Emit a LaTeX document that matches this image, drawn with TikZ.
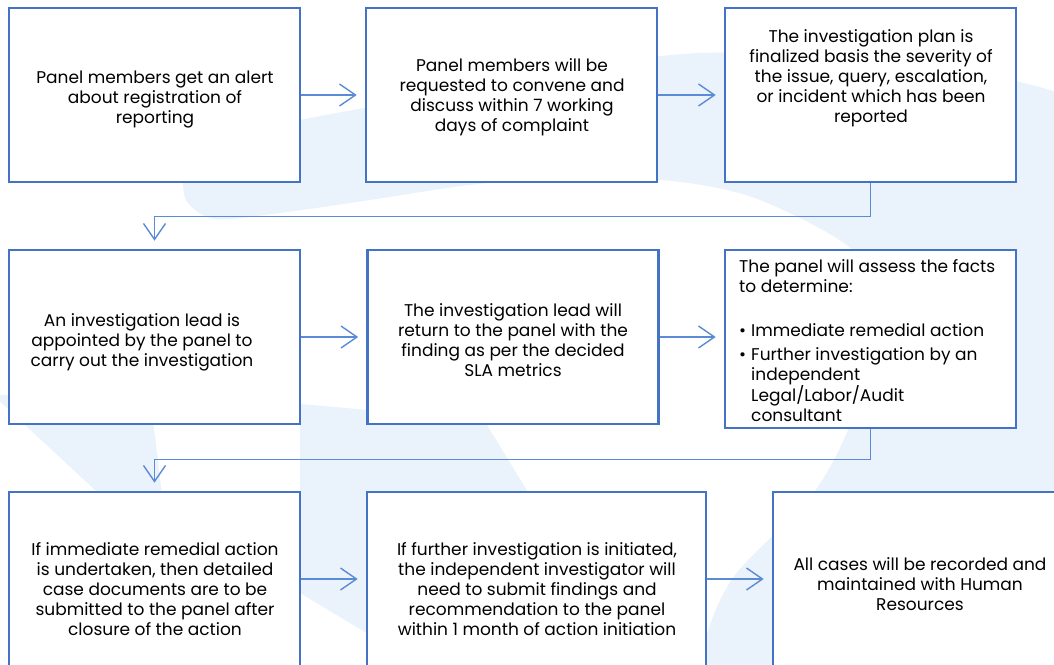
\documentclass[tikz,border=0pt]{standalone}
\usepackage{fontspec}
\setmainfont{Poppins}
\usetikzlibrary{arrows.meta}
\definecolor{boxblue}{HTML}{4472C4}
\definecolor{linkblue}{HTML}{5B8AD6}
\definecolor{wmblue}{HTML}{EAF3FC}
\tikzset{
  stepbox/.style={draw=boxblue, line width=2.6pt, fill=white, minimum width=291pt, minimum height=174pt, inner sep=0pt},
  steptext/.style={align=center, font=\fontsize{17}{20}\selectfont, inner sep=0pt},
  flowarrow/.style={draw=linkblue, line width=1.4pt, -{Straight Barb[length=16pt,width=22pt]}, shorten >=8pt},
}
\begin{document}
\begin{tikzpicture}[x=1pt,y=-1pt]
  \clip (0,0) rectangle (1054,664);

  % watermark behind the boxes
  \fill[wmblue] plot[smooth] coordinates {(690,720) (705,640) (735,575) (812,495) (852,420) (874,330) (858,255) (760,200) (672,181) (560,178) (470,185) (370,200) (280,213) (215,219) (186,200) (186,165) (215,140) (300,120) (390,103) (540,72) (700,53) (850,58) (1010,80) (1080,100)} -- (1150,100) -- (1150,720) -- cycle;
  \fill[wmblue] (300,404) -- (484,420) -- (545,520) -- (560,720) -- (480,697) -- (370,635) -- (300,593) -- cycle;
  \fill[wmblue] (-7,395) -- (150,395) -- (165,520) -- (127,520) -- cycle;

  % first row
  \node[stepbox] (A) at (154.5,95) {};
  \node[stepbox] (B) at (511.5,95) {};
  \node[stepbox] (C) at (870.5,95) {};
  \node[steptext] (tA) at (155,100) {Panel members get an alert\\ about registration of\\ reporting};
  \node[steptext] (tB) at (512,97) {Panel members will be\\ requested to convene and\\ discuss within 7 working\\ days of complaint};
  \node[steptext] (tC) at (871,78) {The investigation plan is\\ finalized basis the severity of\\ the issue, query, escalation,\\ or incident which has been\\ reported};

  % second row
  \node[stepbox] (D) at (154.5,337) {};
  \node[stepbox] (E) at (513,337) {};
  \node[stepbox, minimum height=178pt] (F) at (870.5,339) {};
  \node[steptext] (tD) at (142,342) {An investigation lead is\\ appointed by the panel to\\ carry out the investigation};
  \node[steptext] (tE) at (513,340) {The investigation lead will\\ return to the panel with the\\ finding as per the decided\\ SLA metrics};
  \node[steptext, align=left, anchor=north west] (tF) at (739,259) {The panel will assess the facts\\ to determine:\\[24pt]
    \makebox[12pt][l]{•}Immediate remedial action\\[4pt]
    \makebox[12pt][l]{•}Further investigation by an\\
    \hspace*{12pt}independent\\
    \hspace*{12pt}Legal/Labor/Audit\\
    \hspace*{12pt}consultant};

  % third row
  \node[stepbox] (G) at (154.5,579) {};
  \node[stepbox, minimum width=339pt] (H) at (536.5,579) {};
  \node[stepbox, minimum width=294pt] (I) at (920,579) {};
  \node[steptext] (tG) at (155,589) {If immediate remedial action\\ is undertaken, then detailed\\ case documents are to be\\ submitted to the panel after\\ closure of the action};
  \node[steptext] (tH) at (537,589) {If further investigation is initiated,\\ the independent investigator will\\ need to submit findings and\\ recommendation to the panel\\ within 1 month of action initiation};
  \node[steptext] (tI) at (920,584) {All cases will be recorded and\\ maintained with Human\\ Resources};

  % connectors
  \draw[flowarrow] (A.east) -- (B.west);
  \draw[flowarrow] (B.east) -- (C.west);
  \draw[flowarrow] (C.south) -- ++(0,33) -| (D.north);
  \draw[flowarrow] (D.east) -- (E.west);
  \draw[flowarrow] (E.east) -- (E.east -| F.west);
  \draw[flowarrow] (F.south) -- ++(0,30) -| (G.north);
  \draw[flowarrow] (G.east) -- (H.west);
  \draw[flowarrow] (H.east) -- (I.west);
\end{tikzpicture}
\end{document}
